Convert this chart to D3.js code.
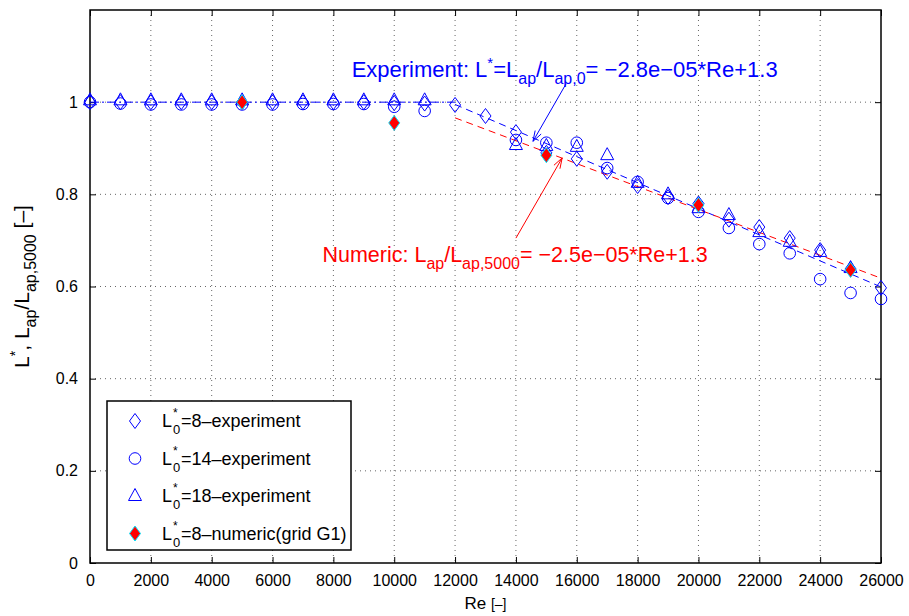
<!DOCTYPE html>
<html>
<head>
<meta charset="utf-8">
<script src="https://cdn.jsdelivr.net/npm/d3@7"></script>
<style>
body { margin: 0; background: #fff; }
text { font-family: "Liberation Sans", Arial, Helvetica, sans-serif; }
</style>
</head>
<body>
<script>
// Reynolds numbers of the experiment runs
const reExp = [0,1000,2000,3000,4000,5000,6000,7000,8000,9000,10000,11000,12000,13000,
  14000,15000,16000,17000,18000,19000,20000,21000,22000,23000,24000,25000,26000];
// L0*=8 experiment (diamonds)
const exp8 = [1.0,1.0,1.0,1.0,1.0,1.0,1.0,1.0,1.0,1.0,0.998,0.997,0.994,0.97,
  0.935,0.89,0.877,0.849,0.818,0.794,0.78,0.745,0.729,0.705,0.679,0.638,0.597];
// L0*=14 experiment (circles)
const exp14 = [1.0,0.997,0.995,0.995,0.995,0.995,0.995,0.996,0.996,0.996,0.99,0.981,null,null,
  0.918,0.912,0.912,0.857,0.827,0.792,0.762,0.727,0.692,0.672,0.616,0.586,0.573];
// L0*=18 experiment (triangles)
const exp18 = [1.004,1.004,1.004,1.004,1.004,1.004,1.004,1.004,1.004,1.004,1.004,1.004,null,null,
  0.907,0.905,0.903,0.885,0.825,0.8,0.77,0.755,0.718,0.697,0.675,0.64,null];
// numeric, grid G1
const reNum = [5000,10000,15000,20000,25000];
const num8 = [1.0,0.955,0.885,0.777,0.636];
// fitted lines
const fitFlatRe = [0,12000], fitFlatVal = [1.0,1.0];
const fitExpRe = [12000,26000], fitExpVal = [0.995,0.599];
const fitNumRe = [12000,26000], fitNumVal = [0.966,0.618];
const xTicks = d3.range(0,26001,2000);
const yTicks = [0,0.2,0.4,0.6,0.8,1];

const W = 909, H = 616;
const margin = {top: 10, right: 28, bottom: 53, left: 90};
const width = W - margin.left - margin.right;
const height = H - margin.top - margin.bottom;
const blue = "#0000ff", red = "#ff0000";

const svg = d3.select("body").append("svg")
  .attr("width", W).attr("height", H);
const g = svg.append("g").attr("transform", `translate(${margin.left},${margin.top})`);

const x = d3.scaleLinear().domain([0,26000]).range([0,width]);
const y = d3.scaleLinear().domain([0,1.2]).range([height,0]);

// grid
g.append("g").selectAll("line").data(xTicks.slice(1,-1)).join("line")
  .attr("x1", d => x(d)).attr("x2", d => x(d)).attr("y1", 0).attr("y2", height)
  .attr("stroke", "#666").attr("stroke-width", 1).attr("stroke-dasharray", "1,4");
g.append("g").selectAll("line").data(yTicks.slice(1)).join("line")
  .attr("y1", d => y(d)).attr("y2", d => y(d)).attr("x1", 0).attr("x2", width)
  .attr("stroke", "#666").attr("stroke-width", 1).attr("stroke-dasharray", "1,4");

// axes (ticks inside, box)
const xAx = g.append("g").attr("transform", `translate(0,${height})`)
  .call(d3.axisBottom(x).tickValues(xTicks).tickSizeInner(-6).tickSizeOuter(0).tickPadding(12).tickFormat(d3.format("d")));
const xAxTop = g.append("g")
  .call(d3.axisTop(x).tickValues(xTicks).tickSizeInner(-6).tickSizeOuter(0).tickFormat(""));
const yAx = g.append("g")
  .call(d3.axisLeft(y).tickValues(yTicks).tickSizeInner(-6).tickSizeOuter(0).tickPadding(12)
    .tickFormat(d => d === 0 || d === 1 ? d3.format("d")(d) : d3.format(".1f")(d)));
const yAxR = g.append("g").attr("transform", `translate(${width},0)`)
  .call(d3.axisRight(y).tickValues(yTicks).tickSizeInner(-6).tickSizeOuter(0).tickFormat(""));
[xAx, xAxTop, yAx, yAxR].forEach(a => {
  a.select(".domain").remove();
  a.selectAll("line").attr("stroke", "#000");
  a.selectAll("text").attr("font-size", 16).attr("fill", "#000")
    .style("font-family", "'Liberation Sans', Arial, sans-serif");
});
g.append("rect").attr("width", width).attr("height", height)
  .attr("fill", "none").attr("stroke", "#000").attr("stroke-width", 1.5);

// fitted lines
const line = d3.line().x(d => x(d[0])).y(d => y(d[1]));
g.append("path").datum(fitFlatRe.map((r,i) => [r, fitFlatVal[i]])).attr("d", line)
  .attr("fill", "none").attr("stroke", blue).attr("stroke-width", 1).attr("stroke-dasharray", "9,3,2,3");
g.append("path").datum(fitExpRe.map((r,i) => [r, fitExpVal[i]])).attr("d", line)
  .attr("fill", "none").attr("stroke", blue).attr("stroke-width", 1).attr("stroke-dasharray", "7,5");
g.append("path").datum(fitNumRe.map((r,i) => [r, fitNumVal[i]])).attr("d", line)
  .attr("fill", "none").attr("stroke", red).attr("stroke-width", 1).attr("stroke-dasharray", "7,5");

// marker shapes
const diamondPath = "M0,-7.5L5.5,0L0,7.5L-5.5,0Z";
const triPath = "M0,-7.5L6.5,4.5L-6.5,4.5Z";

function pts(re, vals) {
  return re.map((r,i) => [r, vals[i]]).filter(d => d[1] != null);
}
g.append("g").selectAll("path").data(pts(reExp, exp18)).join("path")
  .attr("d", triPath).attr("transform", d => `translate(${x(d[0])},${y(d[1])})`)
  .attr("fill", "none").attr("stroke", blue).attr("stroke-width", 1);
g.append("g").selectAll("circle").data(pts(reExp, exp14)).join("circle")
  .attr("cx", d => x(d[0])).attr("cy", d => y(d[1])).attr("r", 5.8)
  .attr("fill", "none").attr("stroke", blue).attr("stroke-width", 1);
g.append("g").selectAll("path").data(pts(reExp, exp8)).join("path")
  .attr("d", diamondPath).attr("transform", d => `translate(${x(d[0])},${y(d[1])})`)
  .attr("fill", "none").attr("stroke", blue).attr("stroke-width", 1);
g.append("g").selectAll("path").data(pts(reNum, num8)).join("path")
  .attr("d", diamondPath).attr("transform", d => `translate(${x(d[0])},${y(d[1])})`)
  .attr("fill", red).attr("stroke", "#00e5ff").attr("stroke-width", 1);

// annotations
function arrow(x1, y1, x2, y2, color) {
  const a = Math.atan2(y2 - y1, x2 - x1), L = 11, s = 0.32;
  g.append("line").attr("x1", x1).attr("y1", y1).attr("x2", x2).attr("y2", y2)
    .attr("stroke", color).attr("stroke-width", 1);
  g.append("path")
    .attr("d", `M${x2 - L*Math.cos(a - s)},${y2 - L*Math.sin(a - s)}L${x2},${y2}L${x2 - L*Math.cos(a + s)},${y2 - L*Math.sin(a + s)}`)
    .attr("fill", "none").attr("stroke", color).attr("stroke-width", 1);
}
arrow(x(15650), y(1.04), x(14560), y(0.915), blue);
arrow(x(14000), y(0.705), x(15520), y(0.879), red);

const fs = 22, fsSub = 16;
const te = g.append("text").attr("x", x(8600)).attr("y", y(1.055)).attr("fill", blue).attr("font-size", fs);
te.append("tspan").text("Experiment: L");
te.append("tspan").attr("dy", -9).attr("font-size", 15).text("*");
te.append("tspan").attr("dy", 9).text("=L");
te.append("tspan").attr("dy", 7).attr("font-size", fsSub).text("ap");
te.append("tspan").attr("dy", -7).text("/L");
te.append("tspan").attr("dy", 7).attr("font-size", fsSub).text("ap,0");
te.append("tspan").attr("dy", -7).text("= \u22122.8e\u221205*Re+1.3");

const tn = g.append("text").attr("x", x(7640)).attr("y", y(0.653)).attr("fill", red).attr("font-size", fs - 0.5);
tn.append("tspan").text("Numeric: L");
tn.append("tspan").attr("dy", 7).attr("font-size", fsSub).text("ap");
tn.append("tspan").attr("dy", -7).text("/L");
tn.append("tspan").attr("dy", 7).attr("font-size", fsSub).text("ap,5000");
tn.append("tspan").attr("dy", -7).text("= \u22122.5e\u221205*Re+1.3");

// axis labels
const xl = svg.append("text").attr("x", margin.left + width/2).attr("y", 609)
  .attr("text-anchor", "middle").attr("font-size", 17);
xl.append("tspan").text("Re ");
xl.append("tspan").attr("font-size", 14).text("[\u2013]");

const yl = svg.append("text").attr("transform", `translate(29,${margin.top + height/2}) rotate(-90)`)
  .attr("text-anchor", "middle").attr("font-size", 21);
yl.append("tspan").text("L");
yl.append("tspan").attr("dy", -9).attr("font-size", 14).text("*");
yl.append("tspan").attr("dy", 9).text(", L");
yl.append("tspan").attr("dy", 7).attr("font-size", 16).text("ap");
yl.append("tspan").attr("dy", -7).text("/L");
yl.append("tspan").attr("dy", 7).attr("font-size", 16).text("ap,5000");
yl.append("tspan").attr("dy", -7).text(" [\u2013]");

// legend
const legLabels = ["=8\u2013experiment", "=14\u2013experiment", "=18\u2013experiment", "=8\u2013numeric(grid G1)"];
const leg = svg.append("g").attr("transform", "translate(107,401)");
leg.append("rect").attr("width", 244).attr("height", 149)
  .attr("fill", "#fff").attr("stroke", "#000").attr("stroke-width", 1.5);
legLabels.forEach((lab, i) => {
  const cy = 20 + i * 37.5;
  const m = leg.append("g").attr("transform", `translate(28,${cy})`);
  if (i === 0) m.append("path").attr("d", diamondPath).attr("fill", "none").attr("stroke", blue);
  if (i === 1) m.append("circle").attr("r", 5.8).attr("fill", "none").attr("stroke", blue);
  if (i === 2) m.append("path").attr("d", triPath).attr("fill", "none").attr("stroke", blue);
  if (i === 3) m.append("path").attr("d", diamondPath).attr("fill", red).attr("stroke", "#00e5ff");
  const tx = 55;
  leg.append("text").attr("x", tx).attr("y", cy + 6).attr("font-size", 18).text("L");
  leg.append("text").attr("x", tx + 11).attr("y", cy - 4).attr("font-size", 12).text("*");
  leg.append("text").attr("x", tx + 11).attr("y", cy + 13).attr("font-size", 13).text("0");
  leg.append("text").attr("x", tx + 19).attr("y", cy + 6).attr("font-size", 18).text(lab);
});
</script>
</body>
</html>
